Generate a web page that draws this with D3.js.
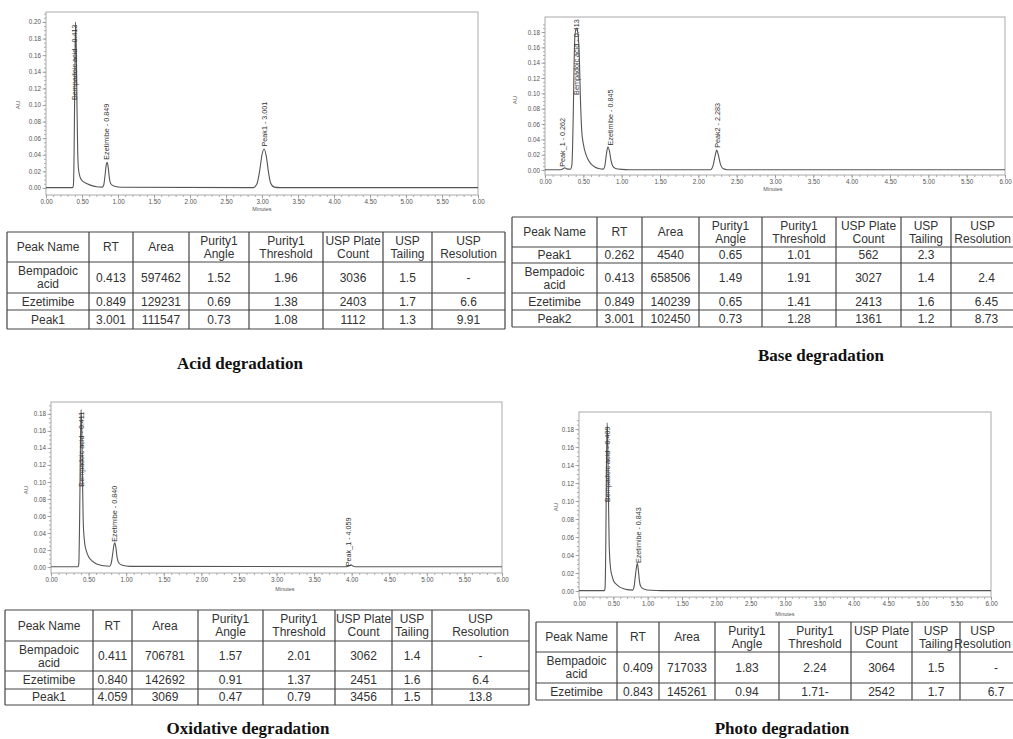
<!DOCTYPE html>
<html>
<head>
<meta charset="utf-8">
<script src="https://cdn.jsdelivr.net/npm/d3@7"></script>
<style>
  body { margin: 0; background: #fff; }
  svg { display: block; font-family: "Liberation Sans", Arial, sans-serif; }
</style>
</head>
<body>
<svg id="fig" width="1013" height="739"></svg>
<script>
// traces: [minutes, AU]
const acidTrace = [[0.00,0.0004],[0.37,0.0004],[0.38,0.003],[0.39,0.04],[0.40,0.13],[0.41,0.20],[0.42,0.17],[0.43,0.10],[0.44,0.045],[0.45,0.024],[0.47,0.014],[0.50,0.009],[0.55,0.006],[0.60,0.004],[0.65,0.0025],[0.70,0.0015],[0.78,0.001],[0.80,0.003],[0.82,0.015],[0.835,0.027],[0.85,0.031],[0.865,0.024],[0.88,0.012],[0.90,0.005],[0.95,0.002],[1.05,0.0008],[2.88,0.0004],[2.93,0.005],[2.97,0.022],[3.00,0.040],[3.03,0.047],[3.06,0.038],[3.09,0.019],[3.12,0.006],[3.17,0.001],[3.25,0.0004],[6.00,0.0004]];
const baseTrace = [[0.00,0.0004],[0.21,0.0004],[0.24,0.002],[0.26,0.003],[0.28,0.0015],[0.33,0.001],[0.35,0.006],[0.36,0.03],[0.37,0.08],[0.38,0.14],[0.39,0.175],[0.41,0.185],[0.43,0.178],[0.45,0.14],[0.46,0.10],[0.48,0.05],[0.50,0.034],[0.535,0.02],[0.56,0.014],[0.60,0.008],[0.65,0.004],[0.70,0.002],[0.76,0.0012],[0.78,0.005],[0.80,0.02],[0.82,0.030],[0.84,0.025],[0.86,0.013],[0.88,0.006],[0.92,0.002],[1.00,0.0008],[1.10,0.0004],[2.16,0.0004],[2.19,0.005],[2.22,0.019],[2.24,0.026],[2.26,0.02],[2.29,0.007],[2.32,0.002],[2.38,0.0004],[6.00,0.0004]];
const oxidTrace = [[0.00,0.0004],[0.36,0.0004],[0.37,0.004],[0.38,0.05],[0.39,0.13],[0.40,0.185],[0.41,0.16],[0.42,0.10],[0.43,0.05],[0.45,0.027],[0.47,0.019],[0.50,0.012],[0.55,0.007],[0.60,0.004],[0.65,0.0025],[0.70,0.0015],[0.78,0.001],[0.80,0.004],[0.82,0.015],[0.84,0.027],[0.85,0.0286],[0.865,0.022],[0.88,0.011],[0.90,0.005],[0.95,0.002],[1.05,0.0008],[3.93,0.0004],[3.97,0.0015],[3.99,0.0025],[4.01,0.0015],[4.05,0.0004],[6.00,0.0004]];
const photoTrace = [[0.00,0.0004],[0.37,0.0004],[0.38,0.004],[0.39,0.05],[0.40,0.14],[0.41,0.187],[0.42,0.16],[0.43,0.10],[0.44,0.05],[0.46,0.025],[0.48,0.017],[0.50,0.012],[0.55,0.007],[0.60,0.004],[0.65,0.0025],[0.70,0.0015],[0.78,0.001],[0.80,0.004],[0.82,0.016],[0.84,0.028],[0.85,0.0307],[0.865,0.023],[0.88,0.011],[0.90,0.005],[0.95,0.002],[1.05,0.0008],[1.20,0.0004],[6.00,0.0004]];

// peak annotations: text, minutes, AU where the label starts
const acidPeaks = [["Bempadoic acid - 0.413",0.40,0.106],["Ezetimibe - 0.849",0.833,0.034],["Peak1 - 3.001",3.03,0.05]];
const basePeaks = [["Peak_1 - 0.262",0.226,0.0043],["Bempadoic acid - 0.413",0.404,0.098],["Ezetimibe - 0.845",0.848,0.032],["Peak2 - 2.283",2.248,0.029]];
const oxidPeaks = [["Bempadoic acid - 0.411",0.41,0.0945],["Ezetimibe - 0.840",0.85,0.0298],["Peak_1 - 4.059",3.955,0.001]];
const photoPeaks = [["Bempadoic acid - 0.409",0.418,0.099],["Ezetimibe - 0.843",0.864,0.031]];

const xTickValues = [0,0.5,1,1.5,2,2.5,3,3.5,4,4.5,5,5.5,6];
const yTicks20 = [0,0.02,0.04,0.06,0.08,0.10,0.12,0.14,0.16,0.18,0.20];
const yTicks18 = [0,0.02,0.04,0.06,0.08,0.10,0.12,0.14,0.16,0.18];

const tableHeader = ["Peak Name","RT","Area","Purity1\nAngle","Purity1\nThreshold","USP Plate\nCount","USP\nTailing","USP\nResolution"];
const acidRows = [
  ["Bempadoic\nacid","0.413","597462","1.52","1.96","3036","1.5","-"],
  ["Ezetimibe","0.849","129231","0.69","1.38","2403","1.7","6.6"],
  ["Peak1","3.001","111547","0.73","1.08","1112","1.3","9.91"]
];
const baseRows = [
  ["Peak1","0.262","4540","0.65","1.01","562","2.3",""],
  ["Bempadoic\nacid","0.413","658506","1.49","1.91","3027","1.4","2.4"],
  ["Ezetimibe","0.849","140239","0.65","1.41","2413","1.6","6.45"],
  ["Peak2","3.001","102450","0.73","1.28","1361","1.2","8.73"]
];
const oxidRows = [
  ["Bempadoic\nacid","0.411","706781","1.57","2.01","3062","1.4","-"],
  ["Ezetimibe","0.840","142692","0.91","1.37","2451","1.6","6.4"],
  ["Peak1","4.059","3069","0.47","0.79","3456","1.5","13.8"]
];
const photoRows = [
  ["Bempadoic\nacid","0.409","717033","1.83","2.24","3064","1.5","-"],
  ["Ezetimibe","0.843","145261","0.94","1.71-","2542","1.7","6.7"]
];

const panels = [
  { title: "Acid degradation", trace: acidTrace, peaks: acidPeaks, rows: acidRows, yTicks: yTicks20,
    box: { l: 46, r: 478, t: 12, b: 195 }, yDomain: [-0.0085, 0.212], au: [20, 105], minutes: [262, 211],
    cols: [7, 89, 133, 189, 249, 323, 383, 432, 505], rowY: [232, 262, 293, 310, 329], titleAt: [240, 369] },
  { title: "Base degradation", trace: baseTrace, peaks: basePeaks, rows: baseRows, yTicks: yTicks18,
    box: { l: 545, r: 1005, t: 17, b: 175 }, yDomain: [-0.0065, 0.1996], au: [517, 100], minutes: [773, 191],
    cols: [512, 597, 642, 699, 762, 836, 901, 951, 1022], rowY: [217, 247, 263, 293, 310, 327], titleAt: [821, 361] },
  { title: "Oxidative degradation", trace: oxidTrace, peaks: oxidPeaks, rows: oxidRows, yTicks: yTicks18,
    box: { l: 51, r: 502, t: 402, b: 573 }, yDomain: [-0.007, 0.194], au: [28, 490], minutes: [285, 591],
    cols: [5, 93, 132, 198, 263, 335, 392, 432, 529], rowY: [610, 641, 671, 689, 705], titleAt: [248, 734] },
  { title: "Photo degradation", trace: photoTrace, peaks: photoPeaks, rows: photoRows, yTicks: yTicks18,
    box: { l: 579, r: 991, t: 412, b: 597 }, yDomain: [-0.0067, 0.199], au: [558, 507], minutes: [785, 616],
    cols: [536, 617, 659, 715, 779, 851, 912, 960, 1032], rowY: [622, 652, 683, 700], titleAt: [782, 734] }
];

const W = 1013;
const svg = d3.select("#fig");
svg.append("rect").attr("width", W).attr("height", 739).attr("fill", "#fff");

panels.forEach(p => {
  const g = svg.append("g");
  const x = d3.scaleLinear().domain([0, 6]).range([p.box.l, p.box.r]);
  const y = d3.scaleLinear().domain(p.yDomain).range([p.box.b, p.box.t]);

  // minor ticks first, then labelled ones
  const xMinor = g.append("g").attr("transform", `translate(0,${p.box.b})`)
    .call(d3.axisBottom(x).tickValues(d3.range(0, 6.001, 0.1)).tickSize(2).tickFormat(""));
  const xMajor = g.append("g").attr("transform", `translate(0,${p.box.b})`)
    .call(d3.axisBottom(x).tickValues(xTickValues).tickSize(3.5).tickPadding(1.5).tickFormat(d3.format(".2f")));
  const yMinor = g.append("g").attr("transform", `translate(${p.box.l},0)`)
    .call(d3.axisLeft(y).tickValues(d3.range(0, d3.max(p.yTicks) + 0.0101, 0.005)).tickSize(2).tickFormat(""));
  const yMajor = g.append("g").attr("transform", `translate(${p.box.l},0)`)
    .call(d3.axisLeft(y).tickValues(p.yTicks).tickSize(3.5).tickPadding(1.5).tickFormat(d3.format(".2f")));

  [xMinor, xMajor, yMinor, yMajor].forEach(a => {
    a.select(".domain").remove();
    a.selectAll("line").attr("stroke", "#888").attr("stroke-width", 0.7);
    a.selectAll("text").attr("font-size", 6.3).attr("fill", "#555")
      .attr("font-family", "'Liberation Sans', Arial, sans-serif");
  });

  g.append("rect")
    .attr("x", p.box.l).attr("y", p.box.t)
    .attr("width", p.box.r - p.box.l).attr("height", p.box.b - p.box.t)
    .attr("fill", "none").attr("stroke", "#aaa").attr("stroke-width", 1);

  g.append("text")
    .attr("transform", `translate(${p.au[0]},${p.au[1]}) rotate(-90)`)
    .attr("text-anchor", "middle").attr("font-size", 6).attr("fill", "#555").text("AU");
  g.append("text")
    .attr("x", p.minutes[0]).attr("y", p.minutes[1])
    .attr("text-anchor", "middle").attr("font-size", 5.5).attr("fill", "#555").text("Minutes");

  const line = d3.line().x(d => x(d[0])).y(d => y(d[1])).curve(d3.curveMonotoneX);
  g.append("path").datum(p.trace)
    .attr("d", line).attr("fill", "none").attr("stroke", "#555").attr("stroke-width", 1.1);

  g.selectAll(".peak-label").data(p.peaks).join("text")
    .attr("class", "peak-label")
    .attr("transform", d => `translate(${x(d[1])},${y(d[2])}) rotate(-90)`)
    .attr("dy", "0.35em")
    .attr("font-size", 7.2).attr("fill", "#333")
    .text(d => d[0]);

  // results table
  const t = svg.append("g");
  const rows = [tableHeader].concat(p.rows);
  rows.forEach((row, ri) => {
    const y0 = p.rowY[ri], y1 = p.rowY[ri + 1];
    row.forEach((cell, ci) => {
      const x0 = p.cols[ci], x1 = p.cols[ci + 1];
      const lines = cell.split("\n");
      const lh = 13;
      const cy = (y0 + y1) / 2 - (lines.length - 1) * lh / 2;
      const txt = t.append("text")
        .attr("text-anchor", "middle")
        .attr("font-size", 12).attr("fill", "#333");
      txt.selectAll("tspan").data(lines).join("tspan")
        .attr("x", (x0 + x1) / 2)
        .attr("y", (d, i) => cy + i * lh)
        .attr("dy", "0.36em")
        .text(d => d);
      // keep text inside the page where the column runs past the edge
      const bb = txt.node().getBBox();
      if (bb.x + bb.width > W - 2) {
        const cx = W - 2 - bb.width / 2;
        txt.selectAll("tspan").attr("x", cx);
      }
    });
  });
  t.selectAll(".hline").data(p.rowY).join("line")
    .attr("x1", p.cols[0]).attr("x2", p.cols[p.cols.length - 1])
    .attr("y1", d => d).attr("y2", d => d)
    .attr("stroke", "#444").attr("stroke-width", 1.2);
  t.selectAll(".vline").data(p.cols).join("line")
    .attr("x1", d => d).attr("x2", d => d)
    .attr("y1", p.rowY[0]).attr("y2", p.rowY[p.rowY.length - 1])
    .attr("stroke", "#444").attr("stroke-width", 1.2);

  svg.append("text")
    .attr("x", p.titleAt[0]).attr("y", p.titleAt[1])
    .attr("text-anchor", "middle")
    .attr("font-family", "'Liberation Serif', 'Times New Roman', serif")
    .attr("font-weight", "bold").attr("font-size", 17).attr("fill", "#111")
    .text(p.title);
});
</script>
</body>
</html>
